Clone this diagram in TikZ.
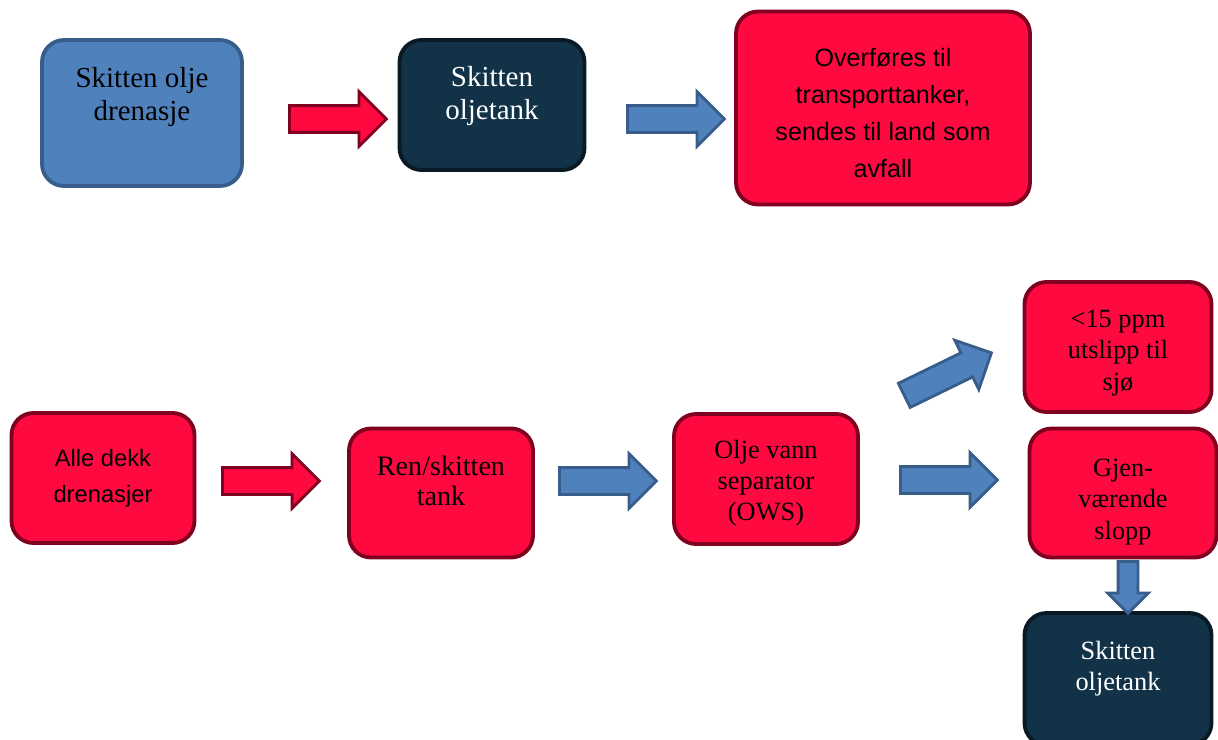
\documentclass[tikz,border=0pt]{standalone}
\usepackage{fontspec}
\setmainfont{Liberation Serif}
\newfontfamily\arialfont{Liberation Sans}
\usetikzlibrary{shapes.arrows}
\definecolor{rodfyll}{RGB}{255,10,64}
\definecolor{rodkant}{RGB}{128,0,32}
\definecolor{blaafyll}{RGB}{79,129,189}
\definecolor{blaakant}{RGB}{56,93,138}
\definecolor{marinefyll}{RGB}{18,50,72}
\definecolor{marinekant}{RGB}{10,26,36}

\begin{document}
\begin{tikzpicture}[x=0.02cm, y=-0.02cm]
%
% Styles
%
\tikzset{boks/.style={draw, rounded corners=0.44cm, line width=2.2pt, inner sep=0pt}};%
\tikzset{rodboks/.style={boks, fill=rodfyll, draw=rodkant}};%
\tikzset{blaaboks/.style={boks, fill=blaafyll, draw=blaakant}};%
\tikzset{marineboks/.style={boks, fill=marinefyll, draw=marinekant}};%
\tikzset{tekst/.style={align=center, inner sep=0pt, font=\fontsize{16.5}{19}\selectfont}};%
\tikzset{tekstmid/.style={tekst, font=\fontsize{16}{17}\selectfont}};%
\tikzset{tekstlav/.style={tekst, font=\fontsize{15}{17.8}\selectfont}};%
\tikzset{arialtekst/.style={align=center, inner sep=0pt, font=\arialfont\fontsize{14.3}{21}\selectfont}};%
\tikzset{pil/.style={single arrow, line width=1.6pt, inner xsep=0pt, inner ysep=0.24cm,
    single arrow head extend=0.28cm, minimum height=1.94cm, minimum width=0pt, anchor=tail}};%
\tikzset{rodpil/.style={pil, fill=rodfyll, draw=rodkant}};%
\tikzset{blaapil/.style={pil, fill=blaafyll, draw=blaakant}};%

\useasboundingbox (0,0) rectangle (1218,740);%

%
% Upper row
%
\node[blaaboks, minimum width=4cm, minimum height=2.92cm] (drenasje) at (142,113) {};%
\node[tekst] (drenasjetxt) at (142,97) {Skitten olje\\drenasje};%
\node[marineboks, minimum width=3.7cm, minimum height=2.6cm] (tank) at (492,105) {};%
\node[tekst, text=white] (tanktxt) at (492,96) {Skitten\\oljetank};%
\node[rodboks, minimum width=5.88cm, minimum height=3.86cm] (avfall) at (883,108) {};%
\node[arialtekst] (avfalltxt) at (883,113) {Overføres til\\transporttanker,\\sendes til land som\\avfall};%
\node[rodpil] (pila) at (288,119) {};%
\node[blaapil] (pilb) at (626,119) {};%

%
% Lower row
%
\node[rodboks, minimum width=3.66cm, minimum height=2.6cm] (dekk) at (103,478) {};%
\node[arialtekst, font=\arialfont\fontsize{13.5}{20.4}\selectfont] (dekktxt) at (103,478) {Alle dekk\\drenasjer};%
\node[rodboks, minimum width=3.68cm, minimum height=2.58cm] (ren) at (441,493) {};%
\node[tekstmid] (rentxt) at (441,481) {Ren/skitten\\tank};%
\node[rodboks, minimum width=3.68cm, minimum height=2.6cm] (ows) at (766,479) {};%
\node[tekstlav] (owstxt) at (766,483) {Olje vann\\separator\\(OWS)};%
\node[rodboks, minimum width=3.74cm, minimum height=2.6cm] (utslipp) at (1118,347) {};%
\node[tekstlav] (utslipptxt) at (1118,353) {<15 ppm\\utslipp til\\sjø};%
\node[rodboks, minimum width=3.74cm, minimum height=2.58cm] (slopp) at (1123,493) {};%
\node[tekstlav] (slopptxt) at (1123,502) {Gjen-\\værende\\slopp};%
\node[marineboks, minimum width=3.74cm, minimum height=2.64cm] (tankb) at (1118,679) {};%
\node[tekstlav, text=white] (tankbtxt) at (1118,669) {Skitten\\oljetank};%

\node[rodpil] (pilc) at (221,481) {};%
\node[blaapil] (pild) at (558,481) {};%
\node[blaapil, rotate=26] (pile) at (903,396) {};%
\node[blaapil] (pilf) at (899,480) {};%
\node[blaapil, rotate=-90, minimum height=1.04cm, inner ysep=0.17cm,
    single arrow head extend=0.21cm] (pilg) at (1128,560) {};%
\end{tikzpicture}
\end{document}
